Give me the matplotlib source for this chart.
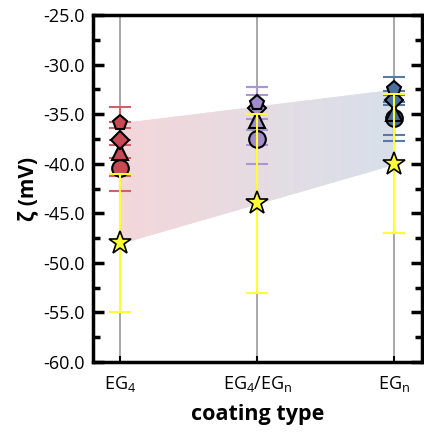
import numpy as np
import matplotlib.pyplot as plt
from matplotlib.ticker import MultipleLocator, FormatStrFormatter

plt.rcParams.update({
    "font.family": ["Open Sans", "DejaVu Sans"],
    "mathtext.fontset": "custom",
    "mathtext.rm": "Open Sans",
    "mathtext.it": "Open Sans",
})

categories = [r"EG$_4$", r"EG$_4$/EG$_n$", r"EG$_n$"]
colors = ["#c94855", "#a08ccc", "#4a6fa0"]
err_colors = ["#d0606a", "#a996d2", "#5a7aa6"]

# per-coating values (pentagon, diamond, triangle, circle)
shapes = ["p", "D", "^", "o"]
zeta = [
    [-35.9, -37.6, -38.8, -40.4],
    [-33.9, -34.4, -35.6, -37.5],
    [-32.5, -33.6, -34.9, -35.4],
]
zeta_err = [
    [1.65, 1.8, 2.4, 2.3],
    [1.6, 2.2, 2.5, 2.5],
    [1.3, 0.5, 2.2, 2.3],
]
star_val = [-48.0, -44.0, -40.0]
star_err = [7.0, 9.0, 7.0]

fig = plt.figure(figsize=(4.24, 4.33), dpi=100)
ax = fig.add_axes([0.219, 0.164, 0.776, 0.801])

x = np.arange(len(categories))

# shaded band between EG4 and EGn, colour fading red -> blue
c0 = np.array([201, 72, 85]) / 255
c1 = np.array([74, 111, 160]) / 255
alpha = 0.22
n = 120
xs = np.linspace(x[0], x[-1], n + 1)
top = np.interp(xs, [x[0], x[-1]], [zeta[0][0], zeta[-1][0]])
bot = np.interp(xs, [x[0], x[-1]], [star_val[0], star_val[-1]])
for k in range(n):
    f = (k + 0.5) / n
    c = 1 - alpha * (1 - (c0 + (c1 - c0) * f))
    ax.fill_between(xs[k:k + 2], bot[k:k + 2], top[k:k + 2], color=c,
                    lw=0.6, edgecolor=c, zorder=0.5)

for xi in x:
    ax.axvline(xi, color="#999999", lw=1.2, zorder=1)

for i, xi in enumerate(x):
    for j, m in enumerate(shapes):
        ax.errorbar(xi, zeta[i][j], yerr=zeta_err[i][j], fmt="none",
                    ecolor=err_colors[i], elinewidth=1.5, capsize=8,
                    capthick=1.5, zorder=2)
    for j in range(len(shapes) - 1, -1, -1):
        m = shapes[j]
        ms = 12 if m == "o" else (9 if m == "D" else 11)
        ax.plot(xi, zeta[i][j], marker=m, ms=ms, color=colors[i],
                mec="black", mew=1.5, zorder=3)
    ax.errorbar(xi, star_val[i], yerr=star_err[i], fmt="none",
                ecolor="#ffff33", elinewidth=1.5, capsize=8,
                capthick=1.5, zorder=4)
    ax.plot(xi, star_val[i], marker="*", ms=17, color="#ffff33",
            mec="black", mew=1.2, zorder=5)

ax.set_xlim(-0.2, 2.2)
ax.set_ylim(-60, -25)
ax.set_xticks(x)
ax.set_xticklabels(categories, fontsize=13)
ax.yaxis.set_major_locator(MultipleLocator(5))
ax.yaxis.set_minor_locator(MultipleLocator(2.5))
ax.yaxis.set_major_formatter(FormatStrFormatter("%.1f"))
ax.tick_params(axis="y", which="major", direction="in", length=8, width=2.5,
               left=True, right=True, labelsize=13, pad=6)
ax.tick_params(axis="y", which="minor", direction="in", length=5, width=2.5,
               left=True, right=True)
ax.tick_params(axis="x", direction="in", length=4, width=1.5, pad=9)
for s in ax.spines.values():
    s.set_linewidth(2.5)

ax.set_ylabel(r"ζ (mV)", fontsize=15, fontweight="bold", labelpad=3)
ax.set_xlabel("coating type", fontsize=15.5, fontweight="bold", labelpad=7)

fig.savefig("out.png", dpi=100)
